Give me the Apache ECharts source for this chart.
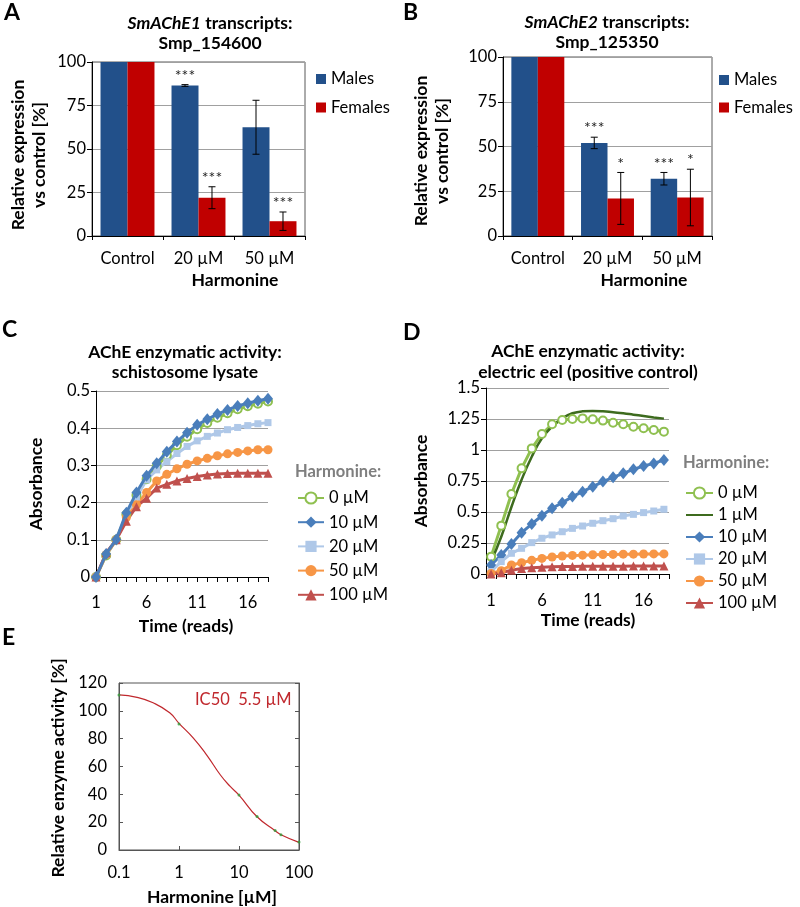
<!DOCTYPE html>
<html><head><meta charset="utf-8">
<script src="https://cdn.jsdelivr.net/npm/echarts@6/dist/echarts.min.js"></script>
<style>html,body{margin:0;padding:0;background:#fff}#c{width:800px;height:907px}</style>
</head><body><div id="c"></div>
<script>
// ---------- data ----------
const doseCats = ['Control', '20 µM', '50 µM'];
const maleA = [100, 86.5, 62.5];
const maleAErr = [0, 0.5, 15.5];
const femaleA = [100, 22, 8.5];
const femaleAErr = [0, 6.3, 5.3];
const maleAStars = ['', '***', ''];
const femaleAStars = ['', '***', '***'];
const maleB = [100, 52, 32];
const maleBErr = [0, 3.2, 3.5];
const femaleB = [100, 21, 21.5];
const femaleBErr = [0, 14.5, 15.8];
const maleBStars = ['', '***', '***'];
const femaleBStars = ['', '*', '*'];

const reads = ['1','2','3','4','5','6','7','8','9','10','11','12','13','14','15','16','17','18'];
const c0   = [0, 0.058, 0.100, 0.168, 0.220, 0.263, 0.297, 0.327, 0.354, 0.377, 0.397, 0.414, 0.428, 0.440, 0.451, 0.459, 0.466, 0.472];
const c10  = [0, 0.062, 0.101, 0.173, 0.227, 0.272, 0.306, 0.337, 0.364, 0.388, 0.409, 0.424, 0.438, 0.449, 0.460, 0.467, 0.474, 0.479];
const c20  = [0, 0.060, 0.100, 0.165, 0.215, 0.261, 0.288, 0.310, 0.332, 0.351, 0.366, 0.378, 0.387, 0.396, 0.402, 0.407, 0.412, 0.415];
const c50  = [0, 0.060, 0.100, 0.160, 0.194, 0.227, 0.258, 0.276, 0.291, 0.303, 0.312, 0.319, 0.326, 0.331, 0.335, 0.339, 0.342, 0.342];
const c100 = [0, 0.065, 0.100, 0.150, 0.189, 0.212, 0.239, 0.249, 0.258, 0.265, 0.270, 0.274, 0.277, 0.278, 0.279, 0.279, 0.279, 0.279];

const d0   = [0.14, 0.39, 0.645, 0.852, 1.013, 1.129, 1.207, 1.242, 1.25, 1.255, 1.247, 1.237, 1.22, 1.207, 1.188, 1.175, 1.161, 1.148];
const d1   = [0.10, 0.30, 0.54, 0.76, 0.946, 1.094, 1.188, 1.255, 1.296, 1.312, 1.315, 1.312, 1.304, 1.296, 1.285, 1.274, 1.263, 1.253];
const d10  = [0.073, 0.153, 0.242, 0.333, 0.403, 0.47, 0.53, 0.575, 0.624, 0.664, 0.704, 0.745, 0.78, 0.812, 0.844, 0.871, 0.892, 0.919];
const d20  = [0.02, 0.10, 0.167, 0.207, 0.253, 0.288, 0.315, 0.341, 0.368, 0.387, 0.409, 0.43, 0.446, 0.468, 0.481, 0.495, 0.508, 0.522];
const d50  = [0.005, 0.027, 0.073, 0.091, 0.11, 0.126, 0.137, 0.145, 0.15, 0.152, 0.155, 0.157, 0.158, 0.16, 0.16, 0.161, 0.162, 0.162];
const d100 = [0, 0.01, 0.03, 0.045, 0.05, 0.055, 0.058, 0.06, 0.061, 0.062, 0.062, 0.063, 0.063, 0.063, 0.064, 0.064, 0.064, 0.064];

const eCurveX = [0.1, 0.2, 0.37, 0.7, 1, 1.75, 2.9, 4.9, 7.2, 10, 20, 40, 50, 100];
const eCurveY = [111.4, 109.7, 105.8, 98.6, 91.0, 80.2, 68.2, 53.9, 45.5, 39.5, 23.9, 13.9, 11, 5.5];
const ePtsX = [0.1, 1, 10, 20, 40, 50, 100];
const ePtsY = [111.4, 90.5, 39.5, 24, 14, 11, 5.8];

const yTicksAB = [0, 100, 25];
const yTicksC = [0, 0.5, 0.1];
const yTicksD = [0, 1.5, 0.25];
const yTicksE = [0, 120, 20];

// ---------- style ----------
const FF = 'Lato';
const FS = 16.5;   // regular text
const FB = 17.5;   // bold titles / names
const colMale = '#22508a', colFemale = '#c00000';
const colG = '#8fc050', colDG = '#3d6b1e', colB = '#4a7ebb', colLB = '#afc8e8', colO = '#f79646', colR = '#c0504d';
const GAP = 0.24;

const chart = echarts.init(document.getElementById('c'));

function errSeries(name, xi, vals, errs, stars, sign) {
  return {
    type: 'custom', name: name + '_err', xAxisIndex: xi, yAxisIndex: xi, z: 5, silent: true,
    data: vals.map((v, i) => [i, v, errs[i]]),
    renderItem: function (params, api) {
      const ci = api.value(0), v = api.value(1), e = api.value(2);
      const band = api.size([1, 0])[0];
      const bw = band * (1 - GAP) / 2;
      const cx = api.coord([ci, 0])[0] + sign * bw / 2;
      const yt = api.coord([ci, v + e])[1], yb = api.coord([ci, v - e])[1];
      const children = [];
      if (e > 0) {
        const ls = { stroke: '#000', lineWidth: 1 };
        children.push({ type: 'line', shape: { x1: cx, y1: yt, x2: cx, y2: yb }, style: ls });
        children.push({ type: 'line', shape: { x1: cx - 3.5, y1: yt, x2: cx + 3.5, y2: yt }, style: ls });
        children.push({ type: 'line', shape: { x1: cx - 3.5, y1: yb, x2: cx + 3.5, y2: yb }, style: ls });
      }
      const s = stars[params.dataIndex];
      if (s) children.push({ type: 'text', x: cx, y: yt - 1, style: { text: s, align: 'center', verticalAlign: 'bottom', fontSize: 16, fontFamily: FF, fill: '#222' } });
      return { type: 'group', children: children };
    }
  };
}

function catAxisAB(gi) {
  return { type: 'category', gridIndex: gi, data: doseCats,
    axisLine: { lineStyle: { color: '#000' } },
    axisTick: { show: true, length: 4, lineStyle: { color: '#000' } },
    axisLabel: { interval: 0, fontSize: FS, color: '#000', fontFamily: FF, margin: 14 } };
}
function valAxis(gi, t, extra) {
  return Object.assign({ type: 'value', gridIndex: gi, min: t[0], max: t[1], interval: t[2],
    axisLine: { show: true, lineStyle: { color: '#000' } },
    axisTick: { show: true, length: 5, lineStyle: { color: '#000' } },
    axisLabel: { fontSize: FS, color: '#000', fontFamily: FF, margin: 6 },
    splitLine: { show: true, lineStyle: { color: '#a0a0a0' } } }, extra || {});
}
function lineS(name, xi, data, color, symbol, size, extra) {
  return Object.assign({ type: 'line', name: name, xAxisIndex: xi, yAxisIndex: xi, data: data,
    color: color, symbol: symbol, symbolSize: size, showAllSymbol: true, lineStyle: { width: 3, color: color },
    itemStyle: { color: color }, animation: false }, extra || {});
}
function T(x, y, text, o) {
  o = o || {};
  return { type: 'text', x: x, y: y, rotation: o.rot || 0, z: 100,
    style: { text: text, align: o.align || 'center', verticalAlign: 'middle', fontFamily: FF,
      fontSize: o.size || FB, fontWeight: o.weight || 'bold', fill: o.fill || '#000',
      lineHeight: o.lh || 21, rich: o.rich } };
}
const richI = { i: { fontStyle: 'italic', fontWeight: 'bold', fontSize: FB, fontFamily: FF } };
const R90 = Math.PI / 2;
const legText = { fontSize: FS, fontFamily: FF, color: '#000' };

const option = {
  animation: false,
  textStyle: { fontFamily: FF },
  grid: [
    { left: 92, top: 62, width: 213, height: 174, show: true, borderColor: '#595959', borderWidth: 1 },
    { left: 503, top: 57, width: 209, height: 179, show: true, borderColor: '#595959', borderWidth: 1 },
    { left: 96, top: 391, width: 172, height: 186 },
    { left: 486, top: 388, width: 183, height: 186 },
    { left: 119, top: 683, width: 180, height: 167, show: true, borderColor: '#555', borderWidth: 1 }
  ],
  xAxis: [
    catAxisAB(0), catAxisAB(1),
    { type: 'category', gridIndex: 2, data: reads, boundaryGap: false,
      axisLine: { lineStyle: { color: '#000' } },
      axisTick: { show: true, interval: 0, length: 5, lineStyle: { color: '#000' } },
      axisLabel: { interval: 4, fontSize: FS, color: '#000', fontFamily: FF, margin: 17 } },
    { type: 'category', gridIndex: 3, data: reads, boundaryGap: true,
      axisLine: { lineStyle: { color: '#000' } },
      axisTick: { show: true, interval: 0, length: 5, lineStyle: { color: '#000' } },
      axisLabel: { interval: 4, fontSize: FS, color: '#000', fontFamily: FF, margin: 18 } },
    { type: 'log', gridIndex: 4, min: 0.1, max: 100, logBase: 10,
      axisLine: { show: true, lineStyle: { color: '#555' } },
      axisTick: { show: true, inside: true, length: 4, lineStyle: { color: '#555' } },
      axisLabel: { fontSize: FS, color: '#000', fontFamily: FF, margin: 14 },
      splitLine: { show: false } }
  ],
  yAxis: [
    valAxis(0, yTicksAB), valAxis(1, yTicksAB), valAxis(2, yTicksC), valAxis(3, yTicksD),
    valAxis(4, yTicksE, { axisTick: { show: true, inside: true, length: 4, lineStyle: { color: '#555' } },
      axisLine: { show: true, lineStyle: { color: '#555' } }, splitLine: { show: false },
      axisLabel: { fontSize: FS, color: '#000', fontFamily: FF, margin: 12 } }),
    valAxis(4, yTicksE, { position: 'right', axisTick: { show: true, inside: true, length: 4, lineStyle: { color: '#555' } },
      axisLine: { show: true, lineStyle: { color: '#555' } }, splitLine: { show: false }, axisLabel: { show: false } })
  ],
  legend: [
    { data: ['Males', 'Females'], orient: 'vertical', left: 316, top: 70.5, padding: 0, icon: 'rect', itemWidth: 10, itemHeight: 10, itemGap: 11.5, textStyle: legText, selectedMode: false },
    { data: ['Males', 'Females'], orient: 'vertical', left: 719, top: 71.5, padding: 0, icon: 'rect', itemWidth: 10, itemHeight: 10, itemGap: 10.5, textStyle: legText, selectedMode: false },
    { data: ['0 µM', '10 µM', '20 µM', '50 µM', '100 µM'], orient: 'vertical', left: 297, top: 489.5, padding: 0, itemWidth: 26, itemHeight: 14, itemGap: 7.2, textStyle: legText, selectedMode: false },
    { data: ['0 µM', { name: '1 µM', itemStyle: { opacity: 0 } }, '10 µM', '20 µM', '50 µM', '100 µM'], orient: 'vertical', left: 685, top: 484.5, padding: 0, itemWidth: 27, itemHeight: 14, itemGap: 5, textStyle: legText, selectedMode: false }
  ],
  series: [
    { type: 'bar', name: 'Males', xAxisIndex: 0, yAxisIndex: 0, data: maleA, color: colMale, barGap: '0%', barCategoryGap: (GAP * 100) + '%' },
    { type: 'bar', name: 'Females', xAxisIndex: 0, yAxisIndex: 0, data: femaleA, color: colFemale, barGap: '0%', barCategoryGap: (GAP * 100) + '%' },
    errSeries('Males', 0, maleA, maleAErr, maleAStars, -1),
    errSeries('Females', 0, femaleA, femaleAErr, femaleAStars, 1),
    { type: 'bar', name: 'Males', xAxisIndex: 1, yAxisIndex: 1, data: maleB, color: colMale, barGap: '0%', barCategoryGap: (GAP * 100) + '%' },
    { type: 'bar', name: 'Females', xAxisIndex: 1, yAxisIndex: 1, data: femaleB, color: colFemale, barGap: '0%', barCategoryGap: (GAP * 100) + '%' },
    errSeries('Males', 1, maleB, maleBErr, maleBStars, -1),
    errSeries('Females', 1, femaleB, femaleBErr, femaleBStars, 1),

    lineS('0 µM', 2, c0, colG, 'emptyCircle', 8, { z: 2 }),
    lineS('20 µM', 2, c20, colLB, 'rect', 7, { z: 2 }),
    lineS('50 µM', 2, c50, colO, 'circle', 9, { z: 2 }),
    lineS('100 µM', 2, c100, colR, 'triangle', 9, { z: 2 }),
    lineS('10 µM', 2, c10, colB, 'diamond', [10, 12], { z: 3 }),

    lineS('0 µM', 3, d0, colG, 'emptyCircle', 8),
    lineS('1 µM', 3, d1, colDG, 'none', 0, { smooth: true, lineStyle: { width: 2.5, color: colDG } }),
    lineS('10 µM', 3, d10, colB, 'diamond', [10, 12]),
    lineS('20 µM', 3, d20, colLB, 'rect', 7),
    lineS('50 µM', 3, d50, colO, 'circle', 9),
    lineS('100 µM', 3, d100, colR, 'triangle', 9),

    { type: 'line', name: 'fit', xAxisIndex: 4, yAxisIndex: 4, data: eCurveX.map((x, i) => [x, eCurveY[i]]),
      smooth: true, symbol: 'none', lineStyle: { color: '#c0282d', width: 1.2 }, color: '#c0282d' },
    { type: 'scatter', name: 'pts', xAxisIndex: 4, yAxisIndex: 4, data: ePtsX.map((x, i) => [x, ePtsY[i]]),
      symbolSize: 3, itemStyle: { color: '#2f9e3a' }, z: 5 }
  ],
  graphic: [
    T(4, 13, 'A', { align: 'left', size: 23 }),
    T(403, 13, 'B', { align: 'left', size: 23 }),
    T(2, 330, 'C', { align: 'left', size: 23 }),
    T(403, 333, 'D', { align: 'left', size: 23 }),
    T(2, 638, 'E', { align: 'left', size: 23 }),

    T(210, 23, '{i|SmAChE1} transcripts:', { rich: richI }),
    T(210, 43, 'Smp_154600'),
    T(607, 22, '{i|SmAChE2} transcripts:', { rich: richI }),
    T(607, 42, 'Smp_125350'),
    T(185, 352, 'AChE enzymatic activity:'),
    T(185, 372, 'schistosome lysate'),
    T(588, 351, 'AChE enzymatic activity:'),
    T(588, 372, 'electric eel (positive control)'),

    T(28.5, 155, 'Relative expression\nvs control [%]', { rot: R90 }),
    T(432, 151, 'Relative expression\nvs control [%]', { rot: R90 }),
    T(36, 484, 'Absorbance', { rot: R90 }),
    T(421, 481, 'Absorbance', { rot: R90 }),
    T(58, 768, 'Relative enzyme activity [%]', { rot: R90 }),

    T(235, 280, 'Harmonine'),
    T(644, 280, 'Harmonine'),
    T(186, 626, 'Time (reads)'),
    T(588, 620, 'Time (reads)'),
    T(212, 897, 'Harmonine [µM]'),

    T(295, 472, 'Harmonine:', { align: 'left', fill: '#7f7f7f', size: 16.5 }),
    T(683, 463, 'Harmonine:', { align: 'left', fill: '#7f7f7f', size: 16.5 }),
    T(195, 700, 'IC50  5.5 µM', { align: 'left', weight: 'normal', fill: '#c0282d', size: 16.5 })
  ]
};
chart.setOption(option);
</script>
</body></html>
